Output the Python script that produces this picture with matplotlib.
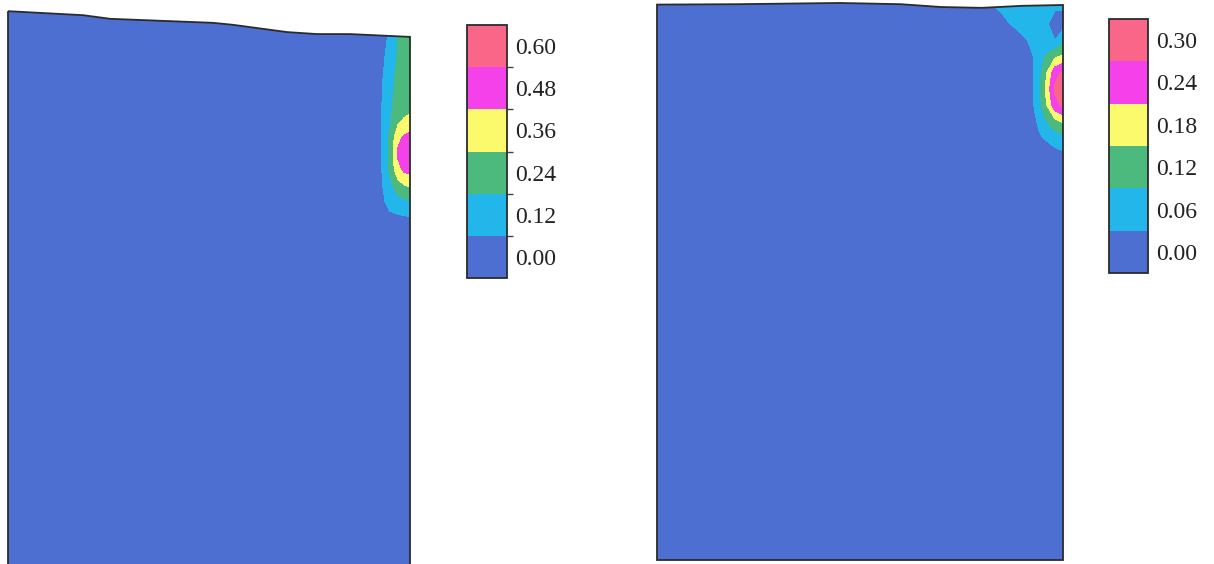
import numpy as np
import matplotlib
matplotlib.use('Agg')
import matplotlib.pyplot as plt
from matplotlib.patches import Polygon

# colores de las bandas (de menor a mayor)
band_colors = ['#4d6fd1', '#22b6ea', '#4cba7c', '#fafa6c', '#f441ea', '#fa6688']

# ---- panel izquierdo ----
left_levels = [0.00, 0.12, 0.24, 0.36, 0.48, 0.60, 0.72]
left_labels = ['0.00', '0.12', '0.24', '0.36', '0.48', '0.60']
left_top_x = [0, 18.7, 25.4, 51, 56, 69.4, 76.9, 85.1, 100]
left_top_y = [141.5, 140.5, 139.6, 138.6, 138.1, 136.3, 135.8, 135.8, 135.1]
left_x = [0, 86, 90, 93, 95, 97, 98.5, 100]
left_y = [0, 80, 86, 91, 94, 98, 102, 106, 110, 114, 118, 124, 130, 136, 142]
left_z = [
    [0, 0, 0, 0, 0, 0, 0, 0],
    [0, 0, 0, 0, 0, 0, 0, 0],
    [0, 0, 0, 0, 0.02, 0.04, 0.05, 0.05],
    [0, 0, 0.01, 0.08, 0.11, 0.12, 0.125, 0.13],
    [0, 0, 0.03, 0.10, 0.15, 0.19, 0.21, 0.22],
    [0, 0, 0.04, 0.11, 0.20, 0.30, 0.35, 0.37],
    [0, 0, 0.05, 0.12, 0.26, 0.44, 0.50, 0.52],
    [0, 0, 0.05, 0.12, 0.27, 0.50, 0.54, 0.56],
    [0, 0, 0.05, 0.12, 0.26, 0.45, 0.50, 0.52],
    [0, 0, 0.05, 0.12, 0.22, 0.34, 0.38, 0.40],
    [0, 0, 0.05, 0.12, 0.22, 0.28, 0.30, 0.32],
    [0, 0, 0.04, 0.11, 0.20, 0.27, 0.29, 0.30],
    [0, 0, 0.03, 0.09, 0.17, 0.25, 0.27, 0.28],
    [0, 0, 0.02, 0.06, 0.14, 0.24, 0.25, 0.26],
    [0, 0, 0.02, 0.06, 0.14, 0.24, 0.25, 0.26],
]

# ---- panel derecho ----
right_levels = [0.00, 0.06, 0.12, 0.18, 0.24, 0.30, 0.36]
right_labels = ['0.00', '0.06', '0.12', '0.18', '0.24', '0.30']
right_top_x = [0, 20, 45, 60, 70, 80, 90, 100]
right_top_y = [136.8, 136.9, 137.2, 136.9, 136.2, 136.0, 136.5, 136.7]
right_x = [0, 80, 85, 89, 92, 94, 96, 98, 100]
right_y = [0, 96, 100, 104, 108, 112, 116, 120, 124, 128, 132, 137, 140]
right_z = [
    [0, 0, 0, 0, 0, 0, 0, 0, 0],
    [0, 0, 0, 0, 0, 0, 0, 0, 0],
    [0, 0, 0, 0, 0, 0, 0.02, 0.04, 0.05],
    [0, 0, 0, 0, 0.02, 0.05, 0.07, 0.09, 0.10],
    [0, 0, 0, 0, 0.03, 0.07, 0.12, 0.16, 0.19],
    [0, 0, 0, 0, 0.04, 0.09, 0.18, 0.28, 0.31],
    [0, 0, 0, 0, 0.04, 0.10, 0.20, 0.31, 0.34],
    [0, 0, 0, 0, 0.04, 0.09, 0.18, 0.28, 0.31],
    [0, 0, 0, 0.02, 0.05, 0.08, 0.13, 0.17, 0.19],
    [0, 0, 0, 0.03, 0.07, 0.08, 0.07, 0.06, 0.10],
    [0, 0, 0.04, 0.08, 0.08, 0.08, 0.065, 0.04, 0.04],
    [0, 0.04, 0.08, 0.08, 0.08, 0.08, 0.08, 0.07, 0.07],
    [0, 0.04, 0.08, 0.08, 0.08, 0.08, 0.08, 0.07, 0.07],
]

W, H = 1214, 564
plt.rcParams['font.family'] = ['Liberation Serif', 'DejaVu Serif']
fig = plt.figure(figsize=(W / 100, H / 100), dpi=100)


def px_axes(x0, y0, x1, y1):
    # caja en pixeles (origen arriba a la izquierda)
    return fig.add_axes([x0 / W, (H - y1) / H, (x1 - x0) / W, (y1 - y0) / H])


def draw_panel(ax, xs, ys, zs, levels, top_x, top_y, ymax):
    cs = ax.contourf(xs, ys, np.array(zs), levels=levels, colors=band_colors)
    outline = list(zip(top_x, top_y)) + [(top_x[-1], 0), (top_x[0], 0)]
    clip = Polygon(outline, closed=True, facecolor='none', edgecolor='#2b2b2b',
                   linewidth=1.3, clip_on=False, zorder=5)
    ax.add_patch(clip)
    cs.set_clip_path(clip)
    ax.set_xlim(0, 100)
    ax.set_ylim(0, ymax)
    ax.axis('off')
    return cs


def draw_bar(cs, cax, levels, labels, minor):
    cb = fig.colorbar(cs, cax=cax)
    centers = [(a + b) / 2 for a, b in zip(levels[:-1], levels[1:])]
    cb.set_ticks(centers, labels=labels)
    cb.outline.set_linewidth(1.3)
    cb.outline.set_edgecolor('#2b2b2b')
    cax.tick_params(which='major', length=0, pad=6, labelsize=17, labelcolor='#222222')
    if minor:
        cax.set_yticks(levels[1:-1], minor=True)
        cax.tick_params(which='minor', length=4, width=1, color='#444444')
    else:
        cax.set_yticks([], minor=True)


# izquierdo: 402 px de ancho -> 4.02 px por unidad, y=0 en py 580 (fuera de la imagen)
ax1 = px_axes(8, 0, 410, 580)
cs1 = draw_panel(ax1, left_x, left_y, left_z, left_levels, left_top_x, left_top_y, 580 / 4.02)
cax1 = px_axes(467, 25, 507, 278)
draw_bar(cs1, cax1, left_levels, left_labels, True)

# derecho: 406 px de ancho -> 4.06 px por unidad, y=0 en py 560
ax2 = px_axes(657, 0, 1063, 560)
cs2 = draw_panel(ax2, right_x, right_y, right_z, right_levels, right_top_x, right_top_y, 560 / 4.06)
cax2 = px_axes(1109, 19, 1148, 273)
draw_bar(cs2, cax2, right_levels, right_labels, False)

fig.savefig('out.png', dpi=100)
